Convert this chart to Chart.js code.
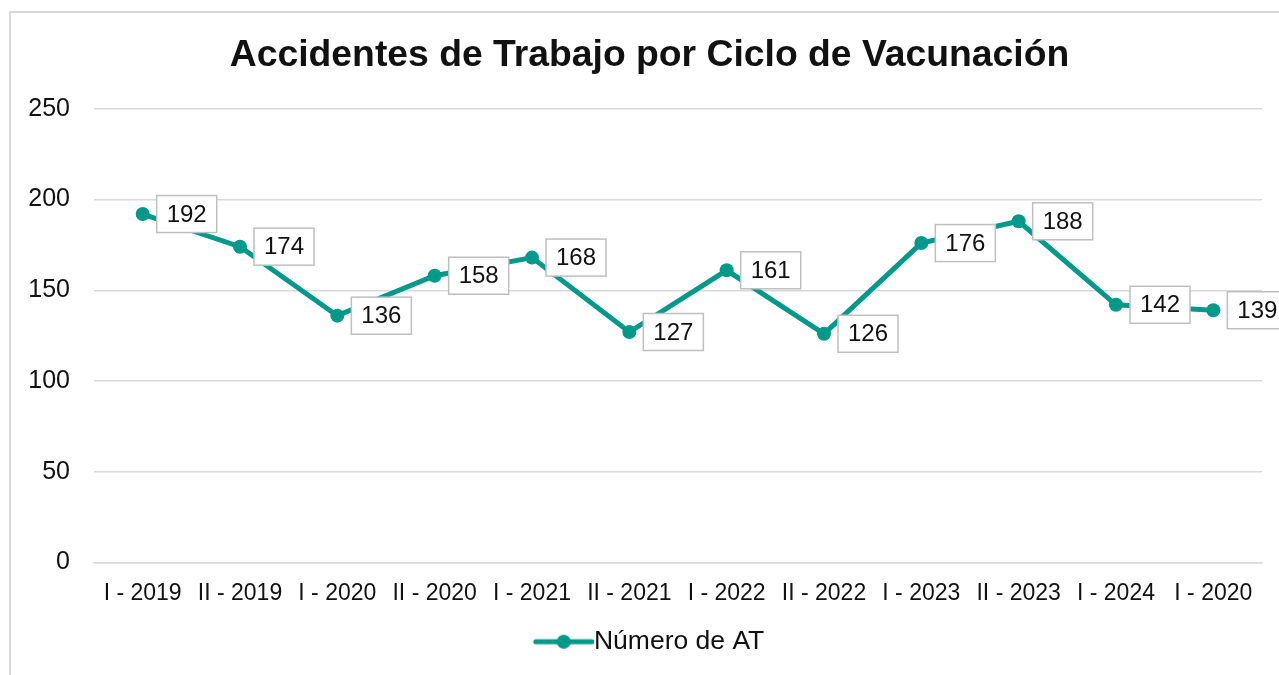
<!DOCTYPE html>
<html lang="es">
<head>
    <meta charset="UTF-8">
    <title>Accidentes de Trabajo por Ciclo de Vacunación</title>
    <script src="https://cdn.jsdelivr.net/npm/chart.js"></script>
    <style>
        body {
            margin: 0;
            padding: 0;
            background-color: #ffffff;
            overflow: hidden;
            font-family: Arial, "Liberation Sans", sans-serif;
        }

        #marco {
            position: absolute;
            left: 9px;
            top: 11px;
            width: 1280px;
            height: 680px;
            border-left: 2px solid #d9d9d9;
            border-top: 2px solid #d9d9d9;
        }
    </style>
</head>
<body>
<div id="marco">
    <canvas id="lineChart" width="1280" height="680"></canvas>
</div>

<script>
    // Datos del gráfico
    const ciclos = ['I - 2019', 'II - 2019', 'I - 2020', 'II - 2020', 'I - 2021', 'II - 2021',
                    'I - 2022', 'II - 2022', 'I - 2023', 'II - 2023', 'I - 2024', 'I - 2020'];
    const numeroAT = [192, 174, 136, 158, 168, 127, 161, 126, 176, 188, 142, 139];
    const ticksY = [0, 50, 100, 150, 200, 250];

    const verde = '#00998a';
    const fuente = 'Arial, "Liberation Sans", sans-serif';

    // Icono de la leyenda: línea con punto
    const icono = document.createElement('canvas');
    icono.width = 72;
    icono.height = 18;
    const ictx = icono.getContext('2d');
    ictx.strokeStyle = verde;
    ictx.lineWidth = 5;
    ictx.lineCap = 'round';
    ictx.beginPath();
    ictx.moveTo(14, 9);
    ictx.lineTo(70, 9);
    ictx.stroke();
    ictx.fillStyle = verde;
    ictx.beginPath();
    ictx.arc(42, 9, 7, 0, Math.PI * 2);
    ictx.fill();

    // Etiquetas de datos en cajas a la derecha de cada punto
    const etiquetas = {
        id: 'etiquetas',
        afterDatasetsDraw(chart) {
            const ctx = chart.ctx;
            const meta = chart.getDatasetMeta(0);
            const datos = chart.data.datasets[0].data;
            ctx.save();
            ctx.font = '24px ' + fuente;
            ctx.textBaseline = 'middle';
            ctx.textAlign = 'left';
            meta.data.forEach((punto, i) => {
                const texto = String(datos[i]);
                const ancho = ctx.measureText(texto).width + 20;
                const alto = 37;
                const x = punto.x + 14;
                const y = punto.y - alto / 2;
                ctx.fillStyle = '#ffffff';
                ctx.fillRect(x, y, ancho, alto);
                ctx.strokeStyle = '#bfbfbf';
                ctx.lineWidth = 1.5;
                ctx.strokeRect(x, y, ancho, alto);
                ctx.fillStyle = '#111111';
                ctx.fillText(texto, x + 10, punto.y + 1);
            });
            ctx.restore();
        }
    };

    new Chart(document.getElementById('lineChart').getContext('2d'), {
        type: 'line',
        data: {
            labels: ciclos,
            datasets: [{
                label: 'Número de AT',
                data: numeroAT,
                borderColor: verde,
                backgroundColor: verde,
                borderWidth: 5,
                pointRadius: 7,
                pointHoverRadius: 7,
                pointBackgroundColor: verde,
                pointBorderWidth: 0,
                tension: 0,
                pointStyle: 'circle'
            }]
        },
        options: {
            responsive: false,
            animation: false,
            layout: {
                padding: { left: 16, right: 19, top: 0, bottom: 28 }
            },
            plugins: {
                title: {
                    display: true,
                    text: 'Accidentes de Trabajo por Ciclo de Vacunación',
                    color: '#111111',
                    font: { family: fuente, size: 37.3, weight: 'bold' },
                    padding: { top: 20, bottom: 31 }
                },
                legend: {
                    position: 'bottom',
                    labels: {
                        usePointStyle: true,
                        pointStyleWidth: 46,
                        color: '#111111',
                        font: { family: fuente, size: 26.5 },
                        padding: 10,
                        generateLabels: (chart) => [{
                            text: chart.data.datasets[0].label,
                            pointStyle: icono,
                            fontColor: '#111111',
                            lineWidth: 0,
                            datasetIndex: 0
                        }]
                    }
                },
                tooltip: { enabled: false }
            },
            scales: {
                x: {
                    offset: true,
                    grid: { display: false },
                    border: { display: true, color: '#d9d9d9', width: 1.5 },
                    ticks: {
                        color: '#111111',
                        font: { family: fuente, size: 23 },
                        padding: 9,
                        maxRotation: 0,
                        autoSkip: false
                    },
                    afterFit(scale) { scale.height = 56; }
                },
                y: {
                    min: 0,
                    max: 250,
                    afterBuildTicks(scale) {
                        scale.ticks = ticksY.map(v => ({ value: v }));
                    },
                    grid: { color: '#d9d9d9', lineWidth: 1.5, drawTicks: false },
                    border: { display: false },
                    ticks: {
                        color: '#111111',
                        font: { family: fuente, size: 25 },
                        padding: 24
                    },
                    afterFit(scale) { scale.width = 67; }
                },
                // margen derecho vacío para centrar título y leyenda como el original
                margen: {
                    type: 'linear',
                    position: 'right',
                    grid: { display: false },
                    border: { display: false },
                    ticks: { display: false },
                    afterFit(scale) { scale.width = 10; }
                }
            }
        },
        plugins: [etiquetas]
    });
</script>
</body>
</html>
